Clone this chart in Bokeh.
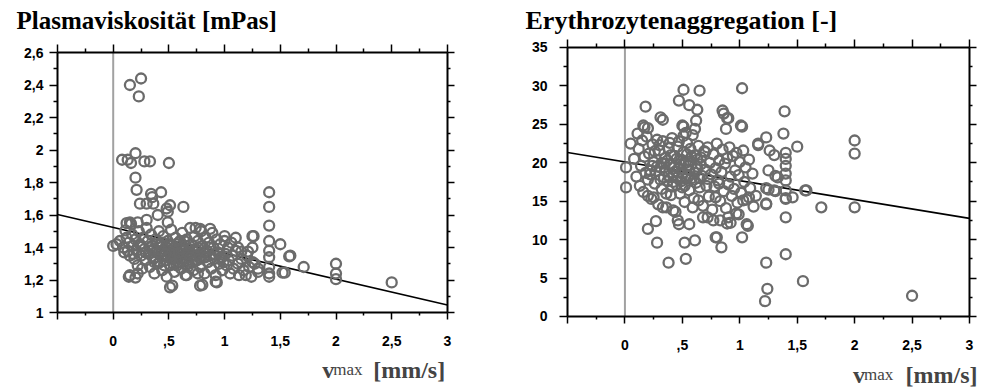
from bokeh.plotting import figure
from bokeh.models import Range1d, FixedTicker, LinearAxis, Label
from bokeh.layouts import row
from bokeh.embed import file_html
from bokeh.resources import INLINE

# ---------------- data ----------------
x_major = [-0.5, 0.0, 0.5, 1.0, 1.5, 2.0, 2.5, 3.0]
x_minor = [-0.25, 0.25, 0.75, 1.25, 1.75, 2.25, 2.75]
x_labels = ["", "0", ",5", "1", "1,5", "2", "2,5", "3"]

visc_ticks = [1.0, 1.2, 1.4, 1.6, 1.8, 2.0, 2.2, 2.4, 2.6]
visc_minor = [1.1, 1.3, 1.5, 1.7, 1.9, 2.1, 2.3, 2.5]
visc_labels = ["1", "1,2", "1,4", "1,6", "1,8", "2", "2,2", "2,4", "2,6"]

aggr_ticks = [0.0, 5.0, 10.0, 15.0, 20.0, 25.0, 30.0, 35.0]
aggr_minor = [2.5, 7.5, 12.5, 17.5, 22.5, 27.5, 32.5]
aggr_labels = ["0", "5", "10", "15", "20", "25", "30", "35"]

visc_title = "Plasmaviskosität [mPas]"
aggr_title = "Erythrozytenaggregation [-]"

visc_slope, visc_intercept = -0.159, 1.5235
aggr_slope, aggr_intercept = -2.45, 20.12

visc_x = [
    0.15, 0.25, 0.23, 0.08, 0.13, 0.16, 0.20, 0.28, 0.33, 0.50,
    0.20, 0.21, 0.34, 0.43, 1.40, 0.24, 0.30, 0.36, 0.35, 0.40,
    0.49, 0.51, 0.63, 1.40, 1.40, 1.40, 1.40, 1.40, 1.40, 1.40,
    1.40, 1.50, 1.58, 1.54, 1.71, 2.00, 2.00, 2.00, 2.50, 1.25,
    1.15, 1.21, 0.51, 0.80, 0.92, 0.14, 0.20, 0.00, 0.03, 0.12,
    0.16, 0.30, 0.48, 0.15, 0.22, 0.49, 0.11, 0.15, 0.22, 0.53,
    0.66, 0.76, 0.78, 0.93, 0.87, 1.00, 1.10, 1.26, 1.12, 1.25,
    1.59, 1.52, 1.25, 1.30, 1.19, 0.74, 0.78,
    0.06, 0.09, 0.10, 0.12, 0.13, 0.14, 0.15, 0.17, 0.18, 0.19,
    0.20, 0.21, 0.22, 0.23, 0.24, 0.25, 0.26, 0.27, 0.28, 0.29,
    0.30, 0.31, 0.32, 0.33, 0.34, 0.35, 0.36, 0.37, 0.38, 0.39,
    0.40, 0.41, 0.42, 0.43, 0.44, 0.45, 0.46, 0.47, 0.48, 0.49,
    0.50, 0.51, 0.52, 0.53, 0.54, 0.55, 0.56, 0.57, 0.58, 0.59,
    0.60, 0.61, 0.62, 0.63, 0.64, 0.65, 0.66, 0.67, 0.68, 0.69,
    0.70, 0.71, 0.72, 0.73, 0.74, 0.75, 0.76, 0.77, 0.78, 0.79,
    0.80, 0.81, 0.82, 0.83, 0.84, 0.85, 0.86, 0.87, 0.88, 0.89,
    0.90, 0.91, 0.92, 0.93, 0.94, 0.95, 0.96, 0.97, 0.98, 1.00,
    1.01, 1.02, 1.03, 1.04, 1.05, 1.06, 1.07, 1.08, 1.10, 1.12,
    1.13, 1.15, 1.17, 1.20, 1.22, 1.24, 1.27, 1.30,
    0.35, 0.45, 0.55, 0.62, 0.68, 0.58, 0.48, 0.42, 0.52, 0.65,
    0.72, 0.38, 0.60, 0.50, 0.75, 0.57, 0.66, 0.44, 0.54, 0.63,
    0.33, 0.37, 0.41, 0.46, 0.51, 0.56, 0.61, 0.66, 0.71, 0.76,
    0.44, 0.49, 0.54, 0.59, 0.64, 0.69, 0.39, 0.47, 0.57, 0.67,
    0.81, 0.86, 0.91, 0.96, 0.29, 0.25, 0.18, 0.78, 0.83, 0.99,
]
visc_y = [
    2.40, 2.44, 2.33, 1.94, 1.94, 1.92, 1.98, 1.93, 1.93, 1.92,
    1.83, 1.755, 1.73, 1.74, 1.74, 1.67, 1.67, 1.67, 1.71, 1.60,
    1.62, 1.66, 1.65, 1.65, 1.535, 1.44, 1.38, 1.34, 1.28, 1.24,
    1.22, 1.42, 1.345, 1.245, 1.28, 1.30, 1.24, 1.205, 1.185, 1.47,
    1.375, 1.375, 1.155, 1.17, 1.19, 1.22, 1.215, 1.41, 1.42, 1.55,
    1.545, 1.57, 1.64, 1.555, 1.555, 1.555, 1.505, 1.23, 1.24, 1.165,
    1.23, 1.24, 1.165, 1.185, 1.515, 1.47, 1.46, 1.47, 1.40, 1.40,
    1.35, 1.245, 1.31, 1.27, 1.23, 1.52, 1.515,
    1.44, 1.40, 1.37, 1.46, 1.38, 1.43, 1.35, 1.48, 1.41, 1.33,
    1.45, 1.38, 1.29, 1.50, 1.42, 1.35, 1.27, 1.46, 1.39, 1.32,
    1.52, 1.44, 1.36, 1.28, 1.48, 1.41, 1.33, 1.24, 1.45, 1.38,
    1.30, 1.50, 1.42, 1.35, 1.26, 1.47, 1.39, 1.32, 1.22, 1.44,
    1.37, 1.29, 1.51, 1.41, 1.34, 1.25, 1.46, 1.38, 1.31, 1.43,
    1.36, 1.27, 1.49, 1.40, 1.33, 1.23, 1.45, 1.37, 1.30, 1.52,
    1.42, 1.35, 1.26, 1.47, 1.39, 1.32, 1.44, 1.36, 1.28, 1.50,
    1.41, 1.34, 1.24, 1.46, 1.38, 1.31, 1.43, 1.35, 1.27, 1.49,
    1.40, 1.33, 1.23, 1.45, 1.37, 1.30, 1.42, 1.34, 1.26, 1.44,
    1.36, 1.29, 1.40, 1.32, 1.24, 1.43, 1.35, 1.27, 1.38, 1.30,
    1.23, 1.33, 1.26, 1.35, 1.28, 1.22, 1.30, 1.25,
    1.38, 1.35, 1.40, 1.36, 1.39, 1.34, 1.40, 1.31, 1.33, 1.41,
    1.38, 1.34, 1.44, 1.42, 1.35, 1.29, 1.32, 1.43, 1.37, 1.30,
    1.40, 1.31, 1.37, 1.29, 1.41, 1.33, 1.39, 1.35, 1.31, 1.40,
    1.38, 1.34, 1.30, 1.37, 1.44, 1.34, 1.42, 1.36, 1.42, 1.28,
    1.37, 1.40, 1.36, 1.33, 1.37, 1.41, 1.36, 1.33, 1.34, 1.31,
]

aggr_x = [
    0.51, 0.65, 1.02, 0.47, 0.56, 0.63, 0.18, 0.31, 0.33, 0.86,
    0.89, 0.88, 1.02, 1.39, 1.38, 0.51, 0.51, 0.61, 0.62, 0.17,
    0.11, 0.05, 1.23, 1.16, 1.26, 1.30, 1.50, 1.40, 1.40, 1.40,
    1.40, 1.40, 1.25, 1.31, 2.00, 2.00, 1.58, 1.25, 1.31, 0.01,
    0.01, 0.20, 0.25, 0.20, 0.27, 0.28, 0.38, 0.52, 0.53, 0.61,
    0.47, 0.56, 0.80, 0.84, 1.02, 1.06, 0.89, 0.92, 0.72, 0.77,
    0.99, 1.23, 1.40, 1.40, 1.23, 1.24, 1.22, 1.55, 2.50, 1.71,
    2.00, 1.40, 1.46,
    0.16, 0.20, 0.50, 0.53, 0.33, 0.42, 0.59, 0.64, 0.79, 0.82,
    0.85, 0.46, 0.68, 0.79, 0.90, 1.01, 1.16, 1.40, 1.40, 1.33,
    1.23, 1.30, 1.57, 1.23, 1.03, 1.08, 1.14, 1.07, 0.97, 0.90,
    0.83,
    0.08, 0.10, 0.12, 0.13, 0.14, 0.15, 0.16, 0.17, 0.18, 0.19,
    0.20, 0.21, 0.22, 0.23, 0.24, 0.25, 0.26, 0.27, 0.28, 0.29,
    0.30, 0.31, 0.32, 0.33, 0.34, 0.35, 0.36, 0.37, 0.38, 0.39,
    0.40, 0.41, 0.42, 0.43, 0.44, 0.45, 0.46, 0.47, 0.48, 0.49,
    0.50, 0.51, 0.52, 0.53, 0.54, 0.55, 0.56, 0.57, 0.58, 0.59,
    0.60, 0.61, 0.62, 0.63, 0.64, 0.65, 0.66, 0.67, 0.68, 0.69,
    0.70, 0.71, 0.72, 0.73, 0.74, 0.75, 0.76, 0.77, 0.78, 0.79,
    0.80, 0.81, 0.82, 0.83, 0.84, 0.85, 0.86, 0.87, 0.88, 0.89,
    0.90, 0.91, 0.92, 0.93, 0.94, 0.95, 0.96, 0.97, 0.98, 0.99,
    1.00, 1.01, 1.03, 1.04, 1.05, 1.06, 1.08, 1.09, 1.11, 1.12,
    0.35, 0.42, 0.48, 0.55, 0.58, 0.62, 0.45, 0.52, 0.38, 0.65,
    0.28, 0.32, 0.40, 0.50, 0.57, 0.60, 0.44, 0.53, 0.47, 0.36,
    0.22, 0.26, 0.31, 0.37, 0.43, 0.49, 0.54, 0.61, 0.66, 0.72,
    0.34, 0.41, 0.46, 0.56, 0.63, 0.70, 0.24, 0.30, 0.39, 0.51,
]
aggr_y = [
    29.5, 29.4, 29.7, 28.1, 27.5, 26.9, 27.3, 25.9, 25.6, 26.4,
    25.8, 24.4, 24.7, 26.7, 23.8, 24.7, 23.5, 24.4, 25.5, 24.6,
    23.8, 22.5, 23.3, 22.3, 21.6, 21.0, 22.1, 21.3, 20.5, 19.6,
    18.6, 17.7, 19.0, 18.3, 22.9, 21.2, 16.4, 16.5, 16.3, 19.4,
    16.8, 15.7, 15.5, 11.4, 12.4, 9.6, 7.0, 9.6, 7.5, 9.9,
    12.0, 12.0, 10.3, 9.0, 10.3, 12.0, 12.1, 12.2, 12.9, 12.5,
    13.3, 14.6, 12.9, 8.1, 7.0, 3.6, 2.0, 4.6, 2.7, 14.2,
    14.2, 15.3, 15.5,
    24.85, 24.5, 24.85, 23.9, 14.2, 13.8, 14.2, 15.1, 15.5, 17.3,
    26.8, 12.5, 12.9, 10.3, 25.8, 24.85, 22.5, 16.4, 15.4, 18.1,
    16.7, 16.4, 16.4, 14.7, 15.1, 15.5, 15.7, 11.8, 13.4, 12.9,
    12.5,
    20.5, 18.2, 21.8, 17.0, 19.6, 22.9, 16.2, 20.8, 18.7, 23.4,
    17.8, 21.2, 19.0, 15.3, 22.4, 20.1, 17.3, 18.9, 23.0, 14.6,
    21.6, 19.4, 16.6, 22.8, 18.1, 20.6, 14.2, 17.6, 21.9, 19.8,
    15.8, 23.2, 18.4, 20.9, 13.6, 17.1, 22.1, 19.2, 16.0, 20.4,
    18.6, 21.4, 14.9, 17.9, 22.6, 19.7, 16.4, 20.2, 18.0, 23.6,
    15.4, 21.0, 17.4, 19.5, 22.2, 16.8, 20.7, 18.3, 14.4, 21.5,
    19.1, 17.0, 22.0, 15.6, 20.0, 18.5, 13.9, 21.1, 16.9, 19.3,
    22.5, 17.7, 20.3, 15.0, 18.8, 21.7, 16.3, 19.9, 14.1, 20.6,
    17.2, 22.0, 18.2, 15.7, 20.9, 16.6, 19.0, 21.3, 14.8, 18.4,
    20.1, 16.1, 21.6, 17.5, 19.4, 15.2, 20.4, 16.7, 18.6, 14.3,
    19.0, 17.5, 19.8, 18.3, 20.8, 19.2, 20.5, 17.0, 18.3, 18.0,
    19.5, 20.0, 21.0, 16.8, 21.8, 17.8, 18.9, 20.0, 22.8, 16.0,
    18.5, 21.5, 17.8, 20.3, 19.5, 17.6, 21.1, 18.7, 19.8, 17.9,
    19.9, 16.9, 18.1, 19.1, 20.4, 21.4, 19.6, 22.3, 22.6, 19.9,
]

# ---------------- styling helpers ----------------
MARK = "#6b6b6b"
TICK_FONT = "Liberation Sans"
SERIF = "Liberation Serif"


def style_axis(ax, ticks, minor, labels, tick_out, minor_out, standoff):
    ax.ticker = FixedTicker(ticks=ticks, minor_ticks=minor)
    ax.axis_line_width = 2
    ax.axis_line_color = "black"
    ax.major_tick_in = 0
    ax.major_tick_out = tick_out
    ax.minor_tick_in = 0
    ax.minor_tick_out = minor_out
    ax.major_tick_line_width = 1.5
    ax.minor_tick_line_width = 1.5
    ax.major_tick_line_color = "black"
    ax.minor_tick_line_color = "black"
    if labels is None:
        ax.major_label_text_color = None
        ax.major_label_standoff = 0
    else:
        ax.major_label_overrides = dict(zip(ticks, labels))
        ax.major_label_text_font = TICK_FONT
        ax.major_label_text_font_style = "bold"
        ax.major_label_text_font_size = "14px"
        ax.major_label_text_color = "black"
        ax.major_label_standoff = standoff


def make_panel(width, xr, yr, yticks, yminor, ylabels,
               xs, ys, slope, intercept, title, title_size, title_pos,
               lab_pos, xstand, ystand):
    p = figure(width=width, height=387, x_range=xr, y_range=yr, title=None,
               output_backend="svg", toolbar_location=None,
               min_border=0, min_border_left=0, min_border_right=0,
               min_border_top=0, min_border_bottom=0)
    p.xgrid.visible = False
    p.ygrid.visible = False
    p.outline_line_color = None
    p.background_fill_color = "white"
    p.border_fill_color = "white"

    x0, x1 = x_major[0], x_major[-1]
    y0, y1 = yticks[0], yticks[-1]

    bottom = p.xaxis[0]
    style_axis(bottom, x_major, x_minor, x_labels, 7, 3, xstand)
    bottom.fixed_location = y0
    bottom.bounds = (x0, x1)

    left = p.yaxis[0]
    style_axis(left, yticks, yminor, ylabels, 8, 4, ystand)
    left.fixed_location = x0
    left.bounds = (y0, y1)

    top = LinearAxis(fixed_location=y1, bounds=(x0, x1))
    style_axis(top, x_major, x_minor, None, 8, 4, 0)
    p.add_layout(top, "above")

    right = LinearAxis(fixed_location=x1, bounds=(y0, y1))
    style_axis(right, yticks, yminor, None, 7, 3, 0)
    p.add_layout(right, "right")

    # dotted reference line at v = 0
    p.line([0.0, 0.0], [y0, y1], line_color="#444444", line_dash="1 1",
           line_width=2)
    # regression line
    fit_x = [x0, x1]
    fit_y = [intercept + slope * v for v in fit_x]
    p.line(fit_x, fit_y, line_color="black", line_width=1.6)

    p.scatter(xs, ys, marker="circle", size=10, fill_color=None,
              line_color=MARK, line_width=2.3)

    p.add_layout(Label(x=title_pos[0], y=title_pos[1], text=title,
                       text_font=SERIF, text_font_style="bold",
                       text_font_size=title_size, text_color="black",
                       text_baseline="alphabetic", text_align="left"))
    vx, mx, bx, by = lab_pos
    p.add_layout(Label(x=vx, y=by, text="v", text_font=SERIF,
                       text_font_style="bold", text_font_size="24px",
                       text_baseline="alphabetic", text_align="left"))
    p.add_layout(Label(x=mx, y=by, text="max", text_font=SERIF,
                       text_font_style="normal", text_font_size="17px",
                       text_baseline="alphabetic", text_align="left"))
    p.add_layout(Label(x=bx, y=by, text="[mm/s]", text_font=SERIF,
                       text_font_style="bold", text_font_size="24px",
                       text_baseline="alphabetic", text_align="right"))
    return p


p1 = make_panel(490, Range1d(-1.0117, 3.3869), Range1d(0.5385, 2.92),
                visc_ticks, visc_minor, visc_labels, visc_x, visc_y,
                visc_slope, visc_intercept, visc_title, "25px",
                (-0.868, 2.797), (1.876, 1.975, 2.98, 0.649), 16, 6)
p2 = make_panel(495, Range1d(-1.1704, 3.1393), Range1d(-9.238, 41.115),
                aggr_ticks, aggr_minor, aggr_labels, aggr_x, aggr_y,
                aggr_slope, aggr_intercept, aggr_title, "26px",
                (-0.8657, 38.51), (1.985, 2.081, 3.07, -7.55), 17, 12)

layout = row(p1, p2)
open("out.html", "w").write(file_html(layout, INLINE))
